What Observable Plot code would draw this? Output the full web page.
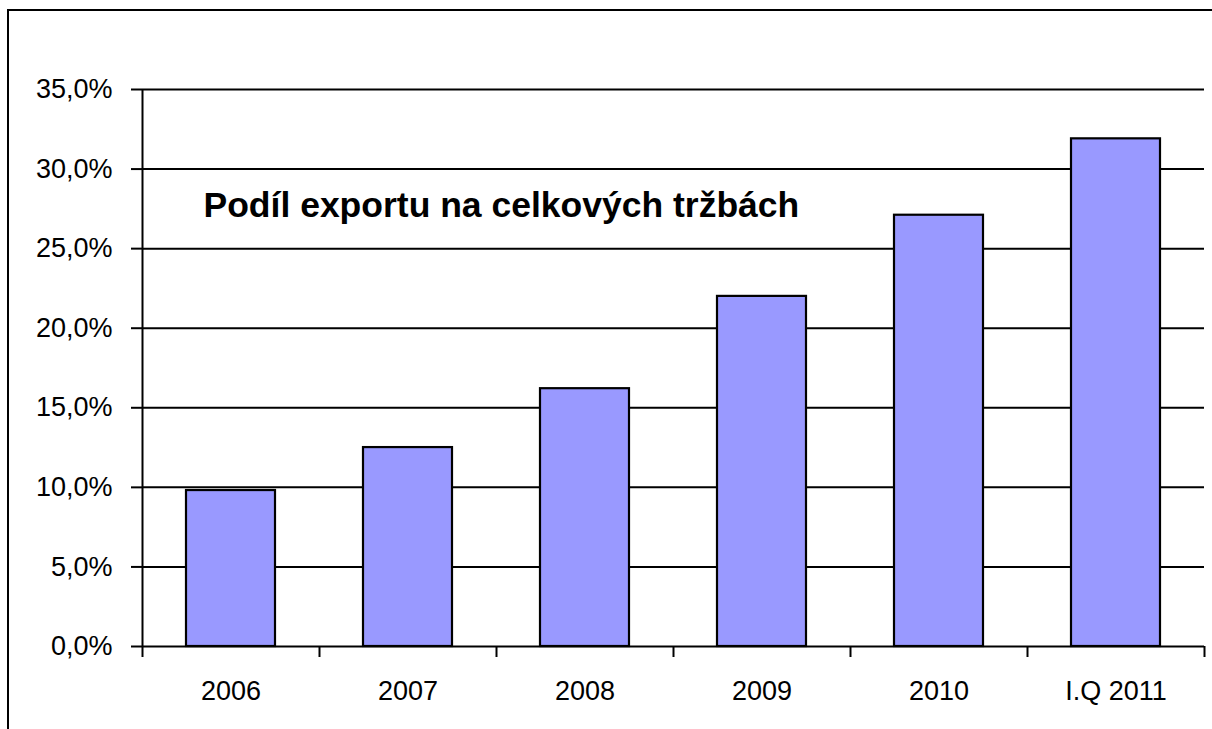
<!DOCTYPE html>
<html>
<head>
<meta charset="utf-8">
<script src="https://cdn.jsdelivr.net/npm/d3@7"></script>
<script src="https://cdn.jsdelivr.net/npm/@observablehq/plot@0.6"></script>
<style>
  html, body { margin: 0; padding: 0; background: #fff; overflow: hidden; }
  #wrap { position: relative; width: 1212px; height: 729px; overflow: hidden; }
  #border { position: absolute; left: 7px; top: 9px; right: -10px; bottom: -10px;
            border-left: 2.5px solid #000; border-top: 2.5px solid #000; pointer-events: none; }
  #chart { position: absolute; left: 0; top: 0; }
</style>
</head>
<body>
<div id="wrap"><div id="chart"></div><div id="border"></div></div>
<script>
const categories = ["2006", "2007", "2008", "2009", "2010", "I.Q 2011"];
const shares = [9.8, 12.5, 16.2, 22.0, 27.1, 31.9];
const yTicks = [0, 5, 10, 15, 20, 25, 30, 35];
const title = "Podíl exportu na celkových tržbách";

const rows = categories.map((c, i) => ({category: c, share: shares[i]}));

const W = 1212, H = 729;
const mL = 142, mR = 8, mT = 89, mB = 83;
const step = (W - mL - mR) / categories.length;
const fmt = d => d.toFixed(1).replace(".", ",") + "%";
const font = "'Liberation Sans', Arial, Helvetica, sans-serif";

const chart = Plot.plot({
  width: W, height: H,
  marginLeft: mL, marginRight: mR, marginTop: mT, marginBottom: mB,
  style: {fontFamily: font, fontSize: "27px", background: "transparent", color: "#000", overflow: "visible"},
  x: {domain: categories, paddingInner: 0.5, paddingOuter: 0.25, align: 0.5, axis: null, label: null},
  y: {domain: [0, 35], axis: null, label: null},
  marks: [
    Plot.ruleY(yTicks, {stroke: "#000", strokeWidth: 2}),
    Plot.axisY(yTicks, {tickSize: 11, tickPadding: 19, tickFormat: fmt, fontSize: 27, label: null,
                        stroke: "#000", strokeWidth: 2, fill: "#000"}),
    Plot.barY(rows, {x: "category", y: "share", fill: "#9999FF", stroke: "#000", strokeWidth: 2.2}),
    // y axis line at the left edge of the first band
    Plot.ruleX([categories[0]], {x: d => d, dx: -step / 2, y1: 0, y2: 35, stroke: "#000", strokeWidth: 2}),
    // category boundary ticks below the baseline
    Plot.ruleX(categories, {x: d => d, dx: -step / 2, y1: 0, y2: 0, insetBottom: -11, stroke: "#000", strokeWidth: 2}),
    Plot.ruleX([categories[categories.length - 1]], {x: d => d, dx: step / 2, y1: 0, y2: 0, insetBottom: -11, stroke: "#000", strokeWidth: 2}),
    Plot.axisX(categories, {tickSize: 0, tickPadding: 34, fontSize: 27, fill: "#000", label: null}),
    Plot.text([title], {frameAnchor: "top-left", dx: 61, dy: 116, text: d => d, textAnchor: "start",
                        lineAnchor: "middle", fontSize: 35.5, fontWeight: "bold", fill: "#000"})
  ]
});
document.getElementById("chart").appendChild(chart);
</script>
</body>
</html>
